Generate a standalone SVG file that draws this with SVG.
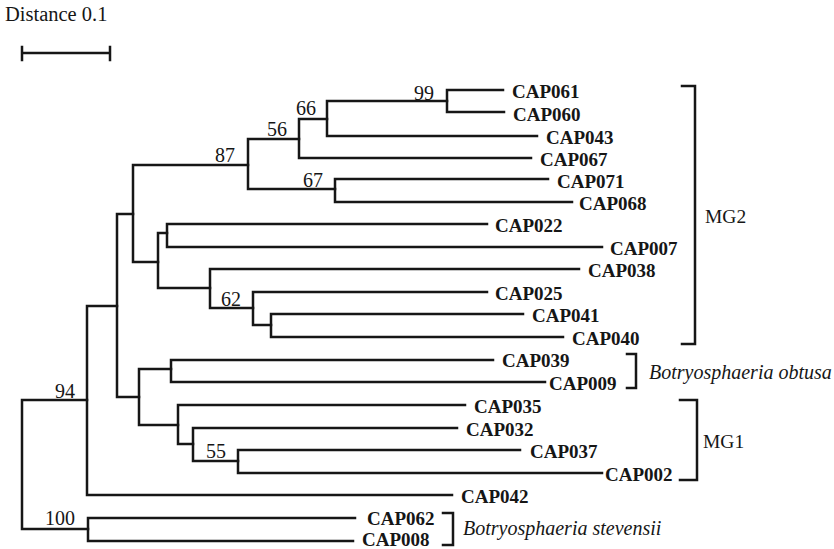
<svg xmlns="http://www.w3.org/2000/svg" width="834" height="549" viewBox="0 0 834 549">
<style>
.br{fill:none;stroke:#161616;stroke-width:2.5;stroke-linecap:square}
.lf{font-family:"Liberation Serif","Times New Roman",serif;font-weight:bold;font-size:19px;fill:#161616}
.bs{font-family:"Liberation Serif","Times New Roman",serif;font-size:20px;fill:#161616}
.gp{font-family:"Liberation Serif","Times New Roman",serif;font-size:19.5px;fill:#161616}
.it{font-family:"Liberation Serif","Times New Roman",serif;font-style:italic;font-size:20px;fill:#161616}
</style>
<rect width="834" height="549" fill="#ffffff"/>
<g id="scale">
<text class="bs" x="5" y="21" style="font-size:20.5px">Distance 0.1</text>
<path class="br" d="M22,53 H110 M22,47 V60 M110,47 V60"/>
</g>
<g id="connectors">
<path class="br" d="M22,400 V529 M22,400 H87 M22,529 H88"/>
<path class="br" d="M87,306 V495 M87,306 H117 M87,495 H452"/>
<path class="br" d="M88,518 V541 M88,518 H355 M88,541 H353"/>
<path class="br" d="M117,214 V397 M117,214 H133 M117,397 H139"/>
<path class="br" d="M133,165 V262 M133,165 H248 M133,262 H158"/>
<path class="br" d="M248,139 V189 M248,139 H299 M248,189 H335"/>
<path class="br" d="M299,119 V158 M299,119 H327 M299,158 H531"/>
<path class="br" d="M327,101 V136 M327,101 H447 M327,136 H537"/>
<path class="br" d="M447,90 V112 M447,90 H503 M447,112 H504"/>
<path class="br" d="M335,179 V202 M335,179 H548 M335,202 H572"/>
<path class="br" d="M158,233 V288 M158,233 H167 M158,288 H210"/>
<path class="br" d="M167,224 V247 M167,224 H487 M167,247 H602"/>
<path class="br" d="M210,269 V308 M210,269 H579 M210,308 H253"/>
<path class="br" d="M253,292 V325 M253,292 H487 M253,325 H271"/>
<path class="br" d="M271,314 V337 M271,314 H523 M271,337 H563"/>
<path class="br" d="M139,369 V425 M139,369 H171 M139,425 H178"/>
<path class="br" d="M171,360 V382 M171,360 H493 M171,382 H545"/>
<path class="br" d="M178,405 V444 M178,405 H465 M178,444 H193"/>
<path class="br" d="M193,428 V461 M193,428 H457 M193,461 H238"/>
<path class="br" d="M238,450 V473 M238,450 H520 M238,473 H602"/>
</g>
<g id="bootstrap">
<text class="bs" x="414" y="100">99</text>
<text class="bs" x="296" y="115">66</text>
<text class="bs" x="267" y="136">56</text>
<text class="bs" x="215" y="162">87</text>
<text class="bs" x="303" y="187">67</text>
<text class="bs" x="221" y="306">62</text>
<text class="bs" x="206" y="458">55</text>
<text class="bs" x="55" y="398">94</text>
<text class="bs" x="45" y="525">100</text>
</g>
<g id="leaves">
<text class="lf" x="512" y="98">CAP061</text>
<text class="lf" x="513" y="121">CAP060</text>
<text class="lf" x="546" y="144">CAP043</text>
<text class="lf" x="540" y="166">CAP067</text>
<text class="lf" x="557" y="188">CAP071</text>
<text class="lf" x="579" y="210">CAP068</text>
<text class="lf" x="495" y="232">CAP022</text>
<text class="lf" x="610" y="255">CAP007</text>
<text class="lf" x="588" y="277">CAP038</text>
<text class="lf" x="495" y="300">CAP025</text>
<text class="lf" x="532" y="322">CAP041</text>
<text class="lf" x="572" y="345">CAP040</text>
<text class="lf" x="502" y="367">CAP039</text>
<text class="lf" x="549" y="390">CAP009</text>
<text class="lf" x="474" y="413">CAP035</text>
<text class="lf" x="466" y="436">CAP032</text>
<text class="lf" x="530" y="458">CAP037</text>
<text class="lf" x="605" y="481">CAP002</text>
<text class="lf" x="461" y="503">CAP042</text>
<text class="lf" x="367" y="525">CAP062</text>
<text class="lf" x="362" y="546">CAP008</text>
</g>
<g id="group-MG2">
<path class="br" d="M682,86 H695 V344 H682"/>
<text class="gp" x="705" y="223">MG2</text>
</g>
<g id="group-obtusa">
<path class="br" d="M627,354 H636 V388 H627"/>
<text class="it" x="649" y="379">Botryosphaeria obtusa</text>
</g>
<g id="group-MG1">
<path class="br" d="M680,400 H697 V480 H680"/>
<text class="gp" x="703" y="448">MG1</text>
</g>
<g id="group-stevensii">
<path class="br" d="M443,513 H453 V545 H443"/>
<text class="it" x="463" y="535">Botryosphaeria stevensii</text>
</g>
</svg>
